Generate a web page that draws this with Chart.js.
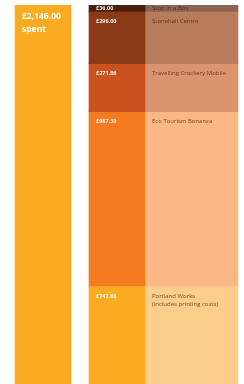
<!DOCTYPE html>
<html>
<head>
<meta charset="utf-8">
<script src="https://cdn.jsdelivr.net/npm/chart.js@4"></script>
<style>
  html, body { margin: 0; padding: 0; background: #fff; }
  #wrap { width: 244px; height: 384px; position: relative; }
</style>
</head>
<body>
<div id="wrap"><canvas id="spendChart"></canvas></div>
<script>
// --- DATOS ---
const columns = ['total', 'amount', 'label'];
const totalSpent = 2146.00;
const totalText = ['£2,146.00', 'spent'];
const projects = ['Stop in a Box', 'Stonehall Centre', 'Travelling Crockery Mobile', 'Eco Tourism Bonanza', 'Portland Works|(includes printing costs)'];
const amounts = [36.00, 296.00, 271.86, 987.30, 747.86];

// colores: columna del importe (oscuro) y columna del nombre (claro)
const darkColors = ['#4a1e0e', '#8b3a16', '#c9521e', '#f47b20', '#fbab22'];
const lightColors = ['#8c6450', '#b87c5c', '#dc946e', '#fbb884', '#fdcd8a'];

function fmt(v) {
  return '£' + v.toFixed(2).replace(/\B(?=(\d{3})+(?!\d))/g, ',');
}

// la columna ancha sobresale del area del grafico, no recortar a los lados
const sideClip = { left: 30, right: 30, top: 0, bottom: 0 };

// --- DATASETS ---
const datasets = [{
  label: 'total',
  data: [totalSpent, null, null],
  backgroundColor: '#fbab22',
  barThickness: 56,
  grouped: false,
  stack: 't'
}];

amounts.forEach((v, i) => {
  datasets.push({
    label: 'amount' + i,
    data: [null, v, null],
    backgroundColor: darkColors[i],
    barThickness: 56,
    grouped: false,
    stack: 'a'
  });
});
amounts.forEach((v, i) => {
  datasets.push({
    label: 'name' + i,
    data: [null, null, v],
    backgroundColor: lightColors[i],
    barThickness: 94,
    grouped: false,
    clip: sideClip,
    stack: 'n'
  });
});

// --- TEXTOS DENTRO DE LAS BARRAS ---
const textPlugin = {
  id: 'barTexts',
  afterDatasetsDraw(chart) {
    const ctx = chart.ctx;
    const area = chart.chartArea;
    ctx.save();
    ctx.beginPath();
    ctx.rect(0, area.top, chart.width, area.bottom - area.top);
    ctx.clip();
    ctx.textBaseline = 'middle';

    // barra del total
    const tot = chart.getDatasetMeta(0).data[0];
    const totLeft = tot.x - tot.width / 2;
    const totTop = Math.min(tot.y, tot.base);
    ctx.fillStyle = '#fff';
    ctx.font = 'bold 8.5px "Open Sans", sans-serif';
    ctx.fillText(totalText[0], totLeft + 7, totTop + 12);
    ctx.fillText(totalText[1], totLeft + 7, totTop + 25);

    amounts.forEach((v, i) => {
      const a = chart.getDatasetMeta(1 + i).data[1];
      const n = chart.getDatasetMeta(1 + amounts.length + i).data[2];
      const top = Math.min(a.y, a.base);
      const h = Math.abs(a.y - a.base);
      const ty = h < 16 ? top + h / 2 : top + 10;

      ctx.fillStyle = 'rgba(255,255,255,0.9)';
      ctx.font = 'bold 5.5px "Open Sans", sans-serif';
      ctx.fillText(fmt(v), a.x - a.width / 2 + 7, ty);

      ctx.fillStyle = 'rgba(60,30,15,0.75)';
      ctx.font = '6px "Open Sans", sans-serif';
      projects[i].split('|').forEach((line, k) => {
        ctx.fillText(line, n.x - n.width / 2 + 8, ty + k * 8);
      });
    });
    ctx.restore();
  }
};

new Chart(document.getElementById('spendChart'), {
  type: 'bar',
  data: { labels: columns, datasets: datasets },
  options: {
    responsive: true,
    maintainAspectRatio: false,
    animation: false,
    layout: { padding: { top: 5, bottom: 0, left: 6, right: 16 } },
    plugins: { legend: { display: false }, tooltip: { enabled: false } },
    scales: {
      x: { display: false, stacked: true },
      y: { display: false, stacked: true, reverse: true, min: 0, max: totalSpent }
    }
  },
  plugins: [textPlugin]
});
</script>
</body>
</html>
